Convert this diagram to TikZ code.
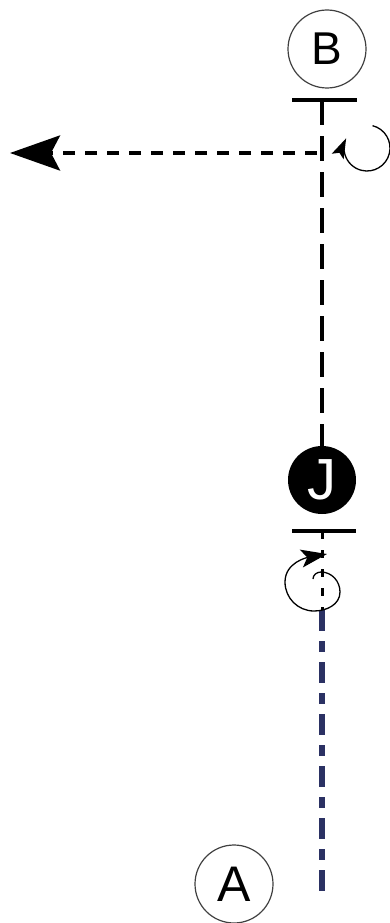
\documentclass[tikz,border=0pt]{standalone}
\usepackage{fontspec}
\setsansfont{Liberation Sans}
\usetikzlibrary{arrows.meta}
\definecolor{navy}{HTML}{2B3163}

\begin{document}
\begin{tikzpicture}[x=1pt,y=1pt,
    lettre/.style={circle,draw=black!75,line width=1.2pt,minimum size=78pt,inner sep=0pt},
    barre/.style={line width=4pt},
    fleche/.style={line width=1.3pt}]
        \useasboundingbox (0,0) rectangle (390,-923);

        \node[lettre,font=\sffamily\fontsize{46}{46}\selectfont] (B) at (327,-49) {B};
        \node[lettre,font=\sffamily\fontsize{50}{50}\selectfont] (A) at (234,-884) {A};
        \node[circle,fill=black,minimum size=68pt,inner sep=0pt,text=white,
              font=\sffamily\fontsize{58}{58}\selectfont] (J) at (322,-480) {J};

        \coordinate (B1) at (292,-100);
        \coordinate (B2) at (357,-100);
        \coordinate (Bh) at (322,-100);
        \coordinate (J1) at (292,-531);
        \coordinate (J2) at (356,-531);
        \coordinate (Jh) at (322,-531);
        \coordinate (Jb) at (322,-610);
        \coordinate (F) at (322,-897);
        \coordinate (H) at (317,-153);
        \coordinate (P) at (10,-153);

        % barres
        \draw[barre] (B1) -- (B2);
        \draw[barre] (J1) -- (J2);

        % lignes
        \draw[line width=4pt,dash pattern=on 25pt off 11pt] (Bh) -- (J.north);
        \draw[line width=4pt,dash pattern=on 12pt off 10pt,
              -{Stealth[length=50pt,width=35pt,inset=9pt]}] (H) -- (P);
        \draw[line width=3pt,dash pattern=on 8pt off 11pt] (Jh) -- (Jb);
        \draw[navy,line width=5.5pt,dash pattern=on 21pt off 10pt on 11pt off 10pt] (Jb) -- (F);

        % rotations
        \draw[fleche,-{Stealth[length=20pt,width=13pt,inset=4pt]}]
            (367,-148) ++(76:23) arc[start angle=76,end angle=-205,radius=23];
        \draw[fleche,-{Stealth[length=26pt,width=18pt,inset=6pt]}]
            (313,-579) to[out=90,in=180] (321,-572) to[out=0,in=90] (340,-592)
            to[out=-90,in=0] (314,-611) to[out=180,in=-90] (285,-582)
            to[out=90,in=190] (327,-554);
    \end{tikzpicture}
\end{document}
